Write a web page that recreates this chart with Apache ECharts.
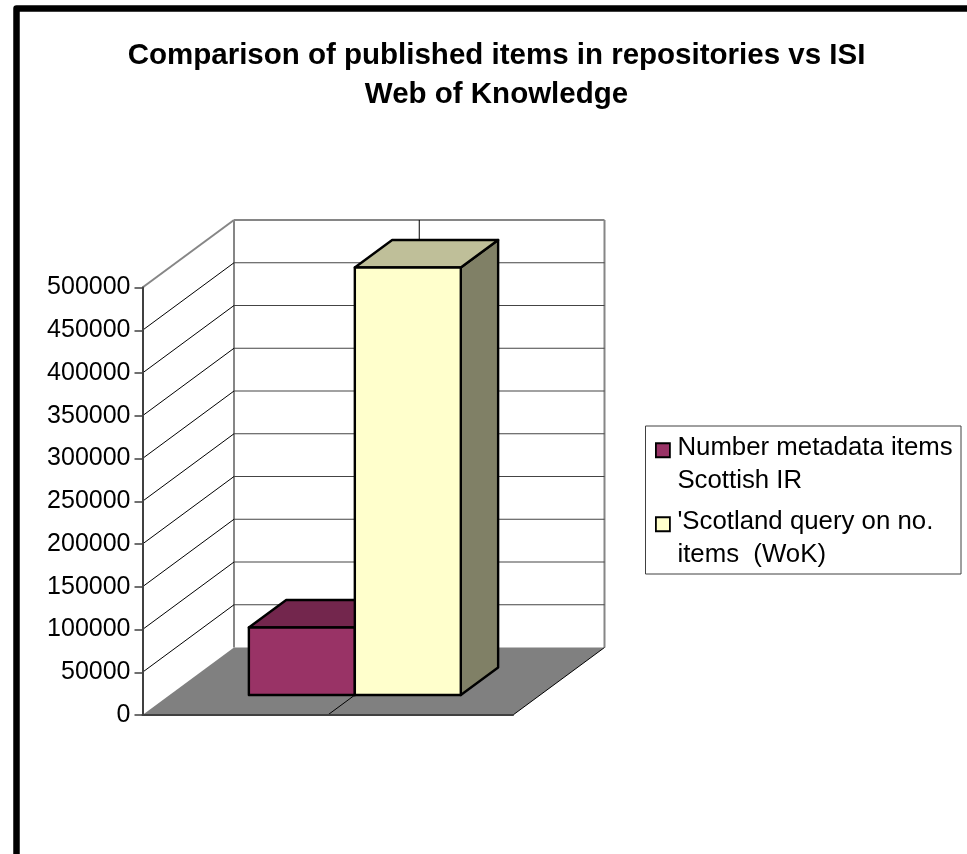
<!DOCTYPE html>
<html>
<head>
<meta charset="utf-8">
<title>Published items in repositories vs ISI Web of Knowledge</title>
<style>
  html, body { margin: 0; padding: 0; background: #fff; }
  #chart { width: 967px; height: 854px; }
</style>
<script src="https://cdn.jsdelivr.net/npm/echarts@6/dist/echarts.min.js"></script>
</head>
<body>
<div id="chart"></div>
<script>
// Chart content
const chartTitle = 'Comparison of published items in repositories vs ISI\nWeb of Knowledge';
const categories = [''];
const repositoryName = 'Number metadata items\nScottish IR';
const wokName = "'Scotland query on no.\nitems  (WoK)";
const repositoryValues = [79000];
const wokValues = [500000];
const axisMax = 500000;
const axisStep = 50000;
const gridValues = [50000, 100000, 150000, 200000, 250000, 300000, 350000, 400000, 450000];

// Oblique projection of the box around the plot
const wallShiftX = 91.5;
const wallShiftY = 67.5;
const barGapDepth = 0.296;
const barDepth = 0.408;
const barWidthShare = 0.286;

const FONT = '"Liberation Sans", Arial, sans-serif';
const WALL_EDGE = '#868686';
const AXIS_DARK = '#404040';

function line(x1, y1, x2, y2, stroke, lineWidth) {
  return { type: 'line', shape: { x1, y1, x2, y2 }, style: { stroke, lineWidth, fill: null }, silent: true };
}
function poly(points, fill, stroke, lineWidth) {
  return {
    type: 'polygon',
    shape: { points },
    style: { fill, stroke: stroke || null, lineWidth: lineWidth || 0, lineJoin: 'round' },
    silent: true
  };
}

// Back wall, side wall, floor and the category divider
function renderBox(params, api) {
  const s = params.coordSys;
  const x0 = s.x, x1 = s.x + s.width, mid = s.x + s.width / 2;
  const yBase = api.coord([0, 0])[1];
  const yTop = api.coord([0, axisMax])[1];
  const dx = wallShiftX, dy = wallShiftY;
  return {
    type: 'group',
    children: [
      poly([[x0, yTop], [x0 + dx, yTop - dy], [x0 + dx, yBase - dy], [x0, yBase]], '#fff'),
      poly([[x0 + dx, yTop - dy], [x1 + dx, yTop - dy], [x1 + dx, yBase - dy], [x0 + dx, yBase - dy]], '#fff'),
      poly([[x0, yBase], [x0 + dx, yBase - dy], [x1 + dx, yBase - dy], [x1, yBase]], '#808080'),
      line(x0, yTop, x0 + dx, yTop - dy, WALL_EDGE, 2),
      line(x0 + dx, yTop - dy, x1 + dx, yTop - dy, WALL_EDGE, 2),
      line(x0 + dx, yTop - dy, x0 + dx, yBase - dy, WALL_EDGE, 2),
      line(x1 + dx, yTop - dy, x1 + dx, yBase - dy, WALL_EDGE, 2),
      line(x1, yBase, x1 + dx, yBase - dy, '#000', 1),
      line(mid + dx, yTop - dy, mid + dx, yBase - dy, '#000', 1),
      line(mid, yBase, mid + dx, yBase - dy, '#000', 1)
    ]
  };
}

// One gridline per value: across the side wall, then along the back wall
function renderGridline(params, api) {
  const s = params.coordSys;
  const y = api.coord([0, api.value(1)])[1];
  return {
    type: 'group',
    children: [
      line(s.x, y, s.x + wallShiftX, y - wallShiftY, '#000', 1),
      line(s.x + wallShiftX, y - wallShiftY, s.x + s.width + wallShiftX, y - wallShiftY, '#444', 1.2)
    ]
  };
}

// A shaded cuboid standing on the floor; slot 0 and 1 sit side by side
function renderBar(slot, faceTop, faceSide) {
  return function (params, api) {
    const s = params.coordSys;
    const w = s.width * barWidthShare;
    const fx = wallShiftX * barGapDepth;
    const fy = wallShiftY * barGapDepth;
    const bx = wallShiftX * barDepth;
    const by = wallShiftY * barDepth;
    const left = s.x + s.width / 2 + fx - w + slot * w;
    const right = left + w;
    const bottom = api.coord([0, 0])[1] - fy;
    const top = api.coord([0, api.value(1)])[1] - fy;
    const front = api.visual('color');
    const ink = '#000';
    return {
      type: 'group',
      children: [
        poly([[right, top], [right + bx, top - by], [right + bx, bottom - by], [right, bottom]], faceSide, ink, 2.4),
        poly([[left, top], [left + bx, top - by], [right + bx, top - by], [right, top]], faceTop, ink, 2.4),
        poly([[left, top], [right, top], [right, bottom], [left, bottom]], front, ink, 2.4)
      ]
    };
  };
}

const chart = echarts.init(document.getElementById('chart'), null, { renderer: 'canvas' });

chart.setOption({
  animation: false,
  backgroundColor: '#fff',
  title: {
    text: chartTitle,
    left: 496.5,
    top: 37,
    textAlign: 'center',
    padding: 0,
    textStyle: { fontFamily: FONT, fontSize: 29.5, fontWeight: 'bold', color: '#000', lineHeight: 38.5 }
  },
  legend: {
    orient: 'vertical',
    left: 655,
    top: 403.5,
    padding: 0,
    itemGap: -19.5,
    itemWidth: 14,
    itemHeight: 14,
    icon: 'rect',
    selectedMode: false,
    itemStyle: { borderColor: '#000', borderWidth: 1.8 },
    // a short spacer line keeps each swatch level with the first text line
    formatter: function (name) {
      return ['{spacer| }'].concat(name.split('\n').map(function (part) {
        return '{entry|' + part + '}';
      })).join('\n');
    },
    textStyle: {
      padding: [0, 0, 0, 2.5],
      rich: {
        spacer: { fontFamily: FONT, fontSize: 10, lineHeight: 28.5, height: 28.5 },
        entry: { fontFamily: FONT, fontSize: 25.8, color: '#000', lineHeight: 32.5, height: 32.5 }
      }
    },
    data: [repositoryName, wokName]
  },
  grid: { left: 142.5, top: 287.5, width: 370.5, height: 427.5 },
  xAxis: {
    type: 'category',
    z: 5,
    data: categories,
    axisLine: { show: true, lineStyle: { color: AXIS_DARK, width: 2 } },
    axisTick: { show: false },
    axisLabel: { show: false },
    splitLine: { show: false }
  },
  yAxis: {
    type: 'value',
    z: 5,
    min: 0,
    max: axisMax,
    interval: axisStep,
    axisLine: { show: true, lineStyle: { color: AXIS_DARK, width: 2 } },
    axisTick: { show: true, length: 8, lineStyle: { color: AXIS_DARK, width: 1.5 } },
    axisLabel: {
      fontFamily: FONT,
      fontSize: 25,
      color: '#000',
      margin: 12,
      formatter: function (value) { return String(value); }
    },
    splitLine: { show: false }
  },
  graphic: [
    {
      type: 'polyline',
      silent: true,
      z: -1,
      shape: { points: [[16.5, 854], [16.5, 8.5], [967, 8.5]] },
      style: { stroke: '#000', lineWidth: 6.5, fill: null, lineJoin: 'round' }
    },
    {
      type: 'rect',
      silent: true,
      z: -1,
      shape: { x: 645.5, y: 426, width: 315.5, height: 148 },
      style: { fill: '#fff', stroke: '#404040', lineWidth: 1 }
    }
  ],
  series: [
    {
      type: 'custom',
      name: 'box',
      silent: true,
      coordinateSystem: 'cartesian2d',
      renderItem: renderBox,
      data: [[0, 0]],
      z: 1
    },
    {
      type: 'custom',
      name: 'gridlines',
      silent: true,
      coordinateSystem: 'cartesian2d',
      renderItem: renderGridline,
      data: gridValues.map(function (v) { return [0, v]; }),
      z: 1
    },
    {
      type: 'custom',
      name: repositoryName,
      coordinateSystem: 'cartesian2d',
      renderItem: renderBar(0, '#73264d', '#4d1a33'),
      itemStyle: { color: '#993366' },
      data: repositoryValues.map(function (v, i) { return [i, v]; }),
      z: 2
    },
    {
      type: 'custom',
      name: wokName,
      coordinateSystem: 'cartesian2d',
      renderItem: renderBar(1, '#bfbf99', '#808066'),
      itemStyle: { color: '#ffffcc' },
      data: wokValues.map(function (v, i) { return [i, v]; }),
      z: 3
    }
  ]
});
</script>
</body>
</html>
